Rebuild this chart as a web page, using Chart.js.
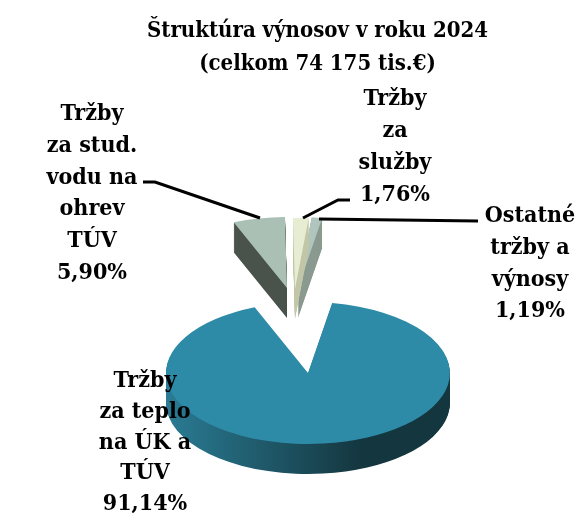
<!DOCTYPE html>
<html><head><meta charset="utf-8">
<style>html,body{margin:0;padding:0;background:#fff}#w{width:579px;height:522px;position:relative}</style>
<script src="https://cdn.jsdelivr.net/npm/chart.js@4"></script></head>
<body><div id="w"><canvas id="c" width="579" height="522"></canvas></div>
<script>
const titleLines = ['Štruktúra výnosov v roku 2024', '(celkom 74 175 tis.€)'];
const categories = ['Tržby za teplo na ÚK a TÚV', 'Tržby za stud. vodu na ohrev TÚV', 'Tržby za služby', 'Ostatné tržby a výnosy'];
const values = [91.14, 5.90, 1.76, 1.19];
const labelLines = [['Tržby','za teplo','na ÚK a','TÚV'], ['Tržby','za stud.','vodu na','ohrev','TÚV'], ['Tržby','za','služby'], ['Ostatné','tržby a','výnosy']];
const topColors = ['#2d8ba8', '#abc0b5', '#e6edd3', '#b0c5bd'];
const sideColors = [null, '#4a524c', '#c2c7a8', '#8a9a90'];

const FONT = 'bold 23px "DejaVu Serif Condensed"';
const pieCenters = [[308,373],[287,288],[295,289],[298,288]];
const labelPos = [[145,381,30.8],[92,114,31.8],[395,99,32],[530,216,31.8]];
const leaders = [
  [[143,182],[155,182],[260,218]],
  [[350,200],[338,200],[303,218]],
  [[478,221],[319,219]]
];
const DEPTH = 30, SQUASH = 0.5;

function fmt(v){ return v.toFixed(2).replace('.', ',') + '%'; }

const pie3d = {
  id: 'pie3d',
  beforeDatasetsDraw(chart) {
    const ctx = chart.ctx;
    const arcs = chart.getDatasetMeta(0).data;
    const blueGrad = ctx.createLinearGradient(166,0,372,0);
    blueGrad.addColorStop(0,'#2b7f98');
    blueGrad.addColorStop(1,'#14363f');
    const order = [0,1,3,2];
    order.forEach(i => {
      const arc = arcs[i], o = arc.options, c = pieCenters[i];
      const paint = (dy, col) => {
        ctx.save();
        ctx.translate(c[0], c[1] + dy);
        ctx.scale(1, SQUASH);
        ctx.translate(-arc.x, -arc.y);
        arc.options = Object.assign(Object.create(o), {backgroundColor: col, borderColor: col, borderWidth: 0});
        arc.draw(ctx);
        arc.options = o;
        ctx.restore();
      };
      for (let d = DEPTH; d >= 1; d--) paint(d, i === 0 ? blueGrad : sideColors[i]);
      paint(0, topColors[i]);
    });
    return false;
  },
  afterDraw(chart) {
    const ctx = chart.ctx;
    ctx.save();
    ctx.strokeStyle = '#000'; ctx.lineWidth = 3; ctx.lineJoin = 'miter';
    leaders.forEach(l => {
      ctx.beginPath();
      l.forEach((p,i) => i ? ctx.lineTo(p[0],p[1]) : ctx.moveTo(p[0],p[1]));
      ctx.stroke();
    });
    ctx.fillStyle = '#000'; ctx.font = FONT; ctx.textAlign = 'center'; ctx.textBaseline = 'middle';
    labelLines.forEach((lines,i) => {
      const [x,y,h] = labelPos[i];
      [...lines, fmt(values[i])].forEach((t,j) => ctx.fillText(t, x, y + j*h));
    });
    ctx.restore();
  }
};

new Chart(document.getElementById('c'), {
  type: 'pie',
  data: { labels: categories, datasets: [{ data: values, backgroundColor: topColors, borderWidth: 0 }] },
  options: {
    responsive: false, animation: false, rotation: 9.8, radius: 142,
    layout: { padding: { left: 56, top: 0 } },
    plugins: {
      legend: { display: false }, tooltip: { enabled: false },
      title: { display: true, text: titleLines, color: '#000', font: { family: '"DejaVu Serif Condensed"', size: 22, weight: 'bold', lineHeight: 1.5 }, padding: { top: 15, bottom: 0 } }
    }
  },
  plugins: [pie3d]
});
</script></body></html>
